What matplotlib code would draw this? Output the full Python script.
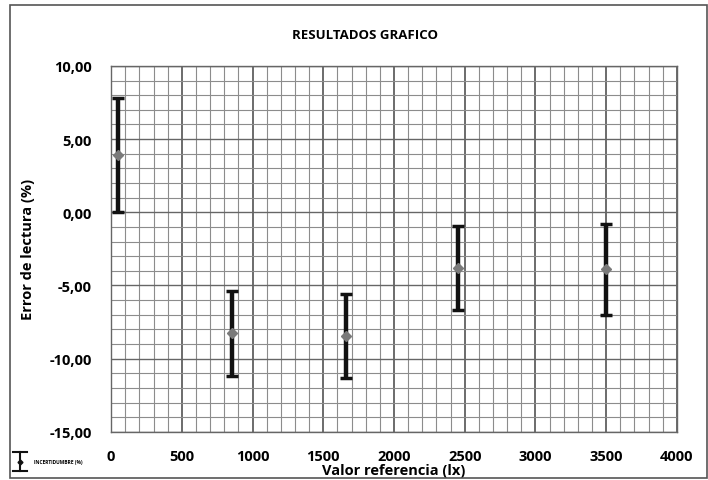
import matplotlib.pyplot as plt
from matplotlib.ticker import MultipleLocator, FuncFormatter
from matplotlib.patches import Rectangle

plt.rcParams['font.family'] = ['Open Sans', 'DejaVu Sans']

# Data
valor_ref = [50, 855, 1660, 2455, 3500]
error_lectura = [3.9, -8.25, -8.45, -3.8, -3.9]
incertidumbre = [3.9, 2.9, 2.9, 2.87, 3.1]

fig = plt.figure(figsize=(7.08, 4.81), dpi=100)
ax = fig.add_axes([0.157, 0.100, 0.799, 0.761])

ax.errorbar(valor_ref, error_lectura, yerr=incertidumbre, fmt='D',
            color='#7a7a7a', markersize=5, ecolor='#111111', elinewidth=3.2,
            capsize=4, capthick=2.5, zorder=5)

ax.set_xlim(0, 4000)
ax.set_ylim(-15, 10)
ax.xaxis.set_major_locator(MultipleLocator(500))
ax.xaxis.set_minor_locator(MultipleLocator(100))
ax.yaxis.set_major_locator(MultipleLocator(5))
ax.yaxis.set_minor_locator(MultipleLocator(1))
ax.yaxis.set_major_formatter(FuncFormatter(lambda v, p: f'{v:.2f}'.replace('.', ',')))

ax.grid(which='minor', color='#8c8c8c', linewidth=0.8)
ax.grid(which='major', axis='x', color='#444444', linewidth=1.1)
ax.grid(which='major', axis='y', color='#666666', linewidth=1.0)
ax.set_axisbelow(True)
for s in ax.spines.values():
    s.set_color('#666666')
    s.set_linewidth(1)

ax.tick_params(which='both', length=0)
ax.tick_params(axis='x', pad=12, labelsize=10.5)
ax.tick_params(axis='y', pad=14, labelsize=10.5)
for lab in ax.get_xticklabels() + ax.get_yticklabels():
    lab.set_fontweight('bold')

ax.set_title('RESULTADOS GRAFICO', fontsize=9.5, fontweight='bold', pad=20, x=0.449)
ax.set_xlabel('Valor referencia (lx)', fontsize=10.5, fontweight='bold', labelpad=0)
ax.set_ylabel('Error de lectura (%)', fontsize=10.5, fontweight='bold', labelpad=10)

# legend symbol at the bottom left
fig.lines.append(plt.Line2D([0.028, 0.028], [0.018, 0.058], color='#111111', lw=1.5,
                            transform=fig.transFigure))
for yy in (0.018, 0.058):
    fig.lines.append(plt.Line2D([0.018, 0.038], [yy, yy], color='#111111', lw=1.5,
                                transform=fig.transFigure))
fig.lines.append(plt.Line2D([0.028], [0.038], marker='D', markersize=2.5, color='#111111',
                            transform=fig.transFigure))
fig.text(0.048, 0.038, 'INCERTIDUMBRE (%)', fontsize=3.5, fontweight='bold',
         va='center', ha='left')

# outer frame
fig.patches.append(Rectangle((0.014, 0.004), 0.984, 0.984, transform=fig.transFigure,
                             fill=False, edgecolor='#555555', linewidth=1.2))

fig.savefig('out.png', dpi=100)
